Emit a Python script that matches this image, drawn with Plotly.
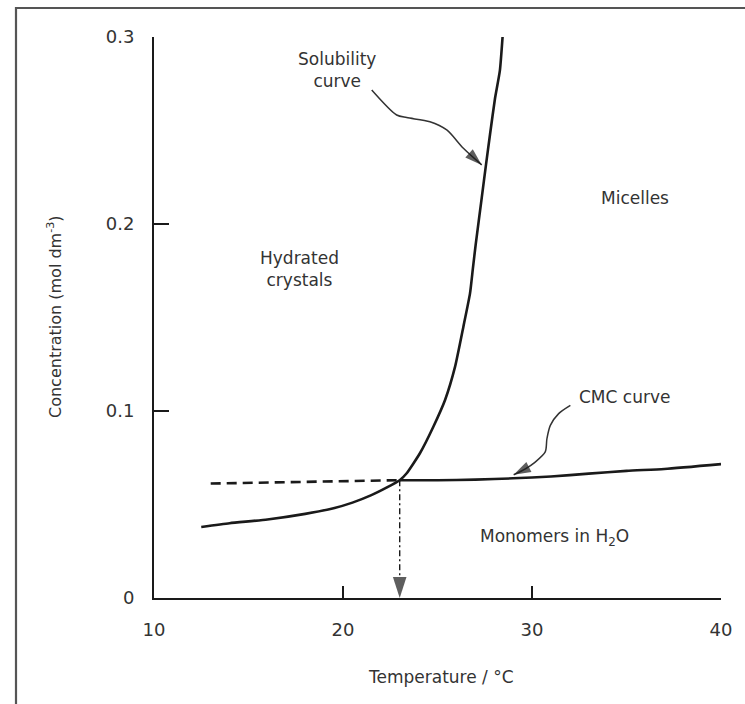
import plotly.graph_objects as go

# ---------------- data ----------------
sol_T = [12.5, 14.0, 16.0, 18.0, 19.5, 20.5, 21.5, 22.3, 23.0, 23.37, 24.07, 24.78, 25.40, 25.93, 26.37, 26.72,
         26.87, 27.02, 27.34, 27.57, 27.78, 28.04, 28.30, 28.45]
sol_c = [0.038, 0.040, 0.042, 0.045, 0.048, 0.051, 0.055, 0.059, 0.063, 0.0667, 0.0774, 0.0916, 0.1059, 0.1237, 0.1451, 0.1629,
         0.176, 0.189, 0.214, 0.232, 0.248, 0.267, 0.282, 0.301]

cmc_T = [23.0, 25.0, 27.0, 29.0, 31.0, 33.0, 35.0, 37.0, 40.0]
cmc_c = [0.063, 0.063, 0.0633, 0.064, 0.065, 0.0665, 0.068, 0.069, 0.0716]

ext_T = [13.0, 23.0]
ext_c = [0.0612, 0.063]

krafft_T = [23.0, 23.0]
krafft_c = [0.063, 0.0]

sol_lead_T = [21.52, 22.84, 23.37, 24.6, 25.49, 26.37, 27.34]
sol_lead_c = [0.2717, 0.2583, 0.2569, 0.2547, 0.2503, 0.2405, 0.2316]

cmc_lead_T = [32.03, 31.41, 30.97, 30.79, 30.70, 30.17, 29.65, 29.03]
cmc_lead_c = [0.1030, 0.0986, 0.0923, 0.0852, 0.0781, 0.0727, 0.0691, 0.0659]

x_tickvals = [10, 20, 30, 40]
x_ticktext = ["10", "20", "30", "40"]
y_tickvals = [0, 0.1, 0.2, 0.3]
y_ticktext = ["0", "0.1", "0.2", "0.3"]

# ---------------- layout geometry ----------------
W, H = 745, 704
ML, MR, MT, MB = 154, 24, 37, 106
PW, PH = W - ML - MR, H - MT - MB


def paper(px, py):
    return (px - ML) / PW, (H - MB - py) / PH


FONT = "DejaVu Sans"
TXT = "#333333"
INK = "#1a1a1a"

fig = go.Figure()

# solubility curve
fig.add_trace(go.Scatter(x=sol_T, y=sol_c, mode="lines",
                         line=dict(color=INK, width=2.6, shape="spline", smoothing=0.5),
                         cliponaxis=False, hoverinfo="skip"))
# CMC curve
fig.add_trace(go.Scatter(x=cmc_T, y=cmc_c, mode="lines",
                         line=dict(color=INK, width=2.6, shape="spline", smoothing=0.6),
                         cliponaxis=False, hoverinfo="skip"))
# dashed extension
fig.add_trace(go.Scatter(x=ext_T, y=ext_c, mode="lines",
                         line=dict(color=INK, width=2.6, dash="10px,6px"),
                         hoverinfo="skip"))
# Krafft temperature dash-dot arrow
fig.add_trace(go.Scatter(x=krafft_T, y=krafft_c, mode="lines+markers",
                         line=dict(color=INK, width=1.4, dash="6px,3px,2px,3px"),
                         marker=dict(symbol="arrow", angleref="previous",
                                     size=[0, 22], color=INK, line=dict(width=0)),
                         cliponaxis=False, hoverinfo="skip"))
# leader lines with arrowheads
for lt, lc in [(sol_lead_T, sol_lead_c), (cmc_lead_T, cmc_lead_c)]:
    sizes = [0] * (len(lt) - 1) + [18]
    fig.add_trace(go.Scatter(x=lt, y=lc, mode="lines+markers",
                             line=dict(color=TXT, width=1.5, shape="spline", smoothing=0.8),
                             marker=dict(symbol="arrow", angleref="previous",
                                         size=sizes, color=INK, line=dict(width=0)),
                             cliponaxis=False, hoverinfo="skip"))

annotations = []


def label(text, x, y, size=17, **kw):
    d = dict(text=text, x=x, y=y, xref="x", yref="y", showarrow=False,
             font=dict(family=FONT, size=size, color=TXT),
             xanchor="center", yanchor="middle")
    d.update(kw)
    annotations.append(d)


label("Solubility<br>curve", 19.68, 0.2823)
label("Hydrated<br>crystals", 17.7, 0.1757)
label("Micelles", 35.45, 0.214)
label("CMC curve", 34.87, 0.1075)
label("Monomers in H<sub>2</sub>O", 31.2, 0.0326)
label("T<sub>K</sub>", 23.2, -0.0165, size=18)

# axis titles
xt = paper(441, 677)
annotations.append(dict(text="Temperature / °C", x=xt[0], y=xt[1], xref="paper", yref="paper",
                        showarrow=False, font=dict(family=FONT, size=17, color=TXT),
                        xanchor="center", yanchor="middle"))
yt = paper(54, 317)
annotations.append(dict(text="Concentration (mol dm<sup>-3</sup>)", x=yt[0], y=yt[1],
                        xref="paper", yref="paper", textangle=-90,
                        showarrow=False, font=dict(family=FONT, size=16, color=TXT),
                        xanchor="center", yanchor="middle"))

# frame (left and top edges of the figure box; right/bottom lie outside the canvas)
x0, y0 = paper(16, 8)
x1, y1 = paper(W + 20, H + 20)
shapes = [
    dict(type="rect", xref="paper", yref="paper", x0=x0, y0=y0, x1=x1, y1=y1,
         line=dict(color="#555555", width=2.2), fillcolor="rgba(0,0,0,0)", layer="above"),
]

fig.update_layout(
    width=W, height=H,
    margin=dict(l=ML, r=MR, t=MT, b=MB, autoexpand=False),
    paper_bgcolor="white", plot_bgcolor="white",
    showlegend=False,
    annotations=annotations,
    shapes=shapes,
    xaxis=dict(range=[10, 40], tickvals=x_tickvals, ticktext=x_ticktext,
               ticks="inside", ticklen=12, tickwidth=2, tickcolor=INK,
               showline=True, linecolor=INK, linewidth=2,
               showgrid=False, zeroline=False, ticklabelstandoff=14,
               tickfont=dict(family=FONT, size=18, color=TXT)),
    yaxis=dict(range=[0, 0.3], tickvals=y_tickvals, ticktext=y_ticktext,
               ticks="inside", ticklen=15, tickwidth=2, tickcolor=INK,
               showline=True, linecolor=INK, linewidth=2,
               showgrid=False, zeroline=False, ticklabelstandoff=14,
               tickfont=dict(family=FONT, size=18, color=TXT)),
)

fig.write_html("out.html",
               config={"displayModeBar": False},
               post_script="document.body.style.margin='0';document.body.style.padding='0';document.body.style.overflow='hidden';")
